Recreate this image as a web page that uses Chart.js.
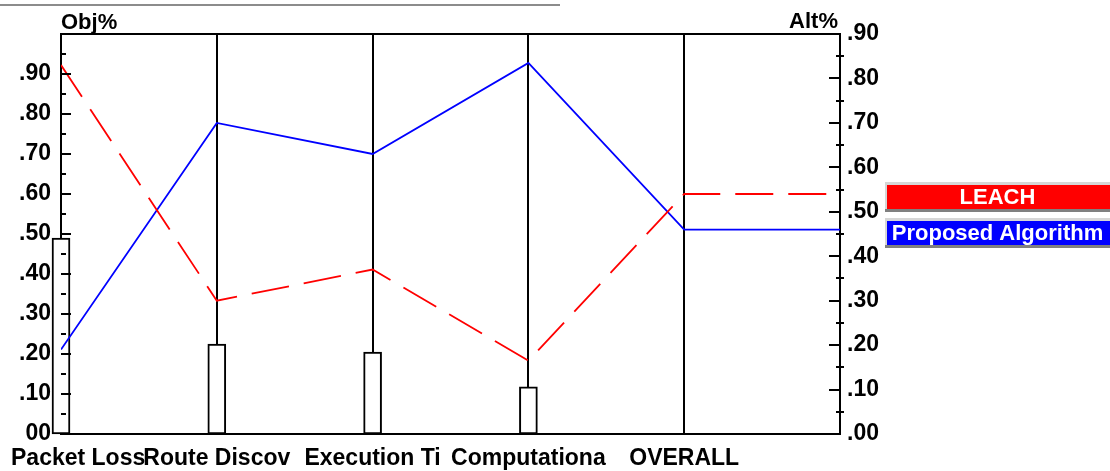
<!DOCTYPE html>
<html>
<head>
<meta charset="utf-8">
<script src="https://cdn.jsdelivr.net/npm/chart.js@4/dist/chart.umd.min.js"></script>
<style>
  html, body { margin:0; padding:0; background:#fff; }
  #wrap { width:1110px; height:471px; }
</style>
</head>
<body>
<div id="wrap"><canvas id="chart" width="1110" height="471"></canvas></div>
<script>
// ── Data ──────────────────────────────────────────────────────
const categories      = ['Packet Loss', 'Route Discov', 'Execution Ti', 'Computationa', 'OVERALL'];
const criteriaWeights = [0.49, 0.225, 0.205, 0.118];          // Obj% bars
const leach           = [0.83, 0.30, 0.37, 0.165, 0.54];      // Alt%
const proposed        = [0.19, 0.70, 0.63, 0.835, 0.46];      // Alt%
const seriesNames     = ['LEACH', 'Proposed Algorithm'];
const objMax = 1.0, altMax = 0.9, tickStep = 0.1, minorStep = 0.05;

const FONT = '"Liberation Sans", Arial, sans-serif';
const C = { red:'#ff0000', blue:'#0000ff', ink:'#000' };

// line runs flat from OVERALL out to the right axis
const toLine = vals => [
  ...vals.map((v, i) => ({ x:i, y:v })),
  { x:categories.length, y:vals[vals.length-1] },
];
const fmtTick = v => {
  if (v > objMax - 0.001) return '';
  if (v === 0) return '00';
  return '.' + Math.round(v*100).toString().padStart(2, '0');
};

// ── Decorations: frame, axis ticks, headers, x labels, legend boxes ──
const decor = {
  id:'decor',
  afterDraw(chart) {
    const { ctx, chartArea:a, scales } = chart;
    const yo = scales.yObj, ya = scales.yAlt, x = scales.x;
    ctx.save();

    // window rule at the very top
    ctx.fillStyle = '#8c8c8c';
    ctx.fillRect(0, 4, 560, 2);

    ctx.strokeStyle = C.ink; ctx.lineWidth = 2;
    ctx.beginPath(); ctx.moveTo(a.left, a.top); ctx.lineTo(a.right, a.top); ctx.stroke();

    // left axis ticks (inside)
    for (let v = minorStep; v < objMax - 0.001; v += minorStep) {
      const py = Math.round(yo.getPixelForValue(v));
      const major = Math.abs(v/tickStep - Math.round(v/tickStep)) < 0.01;
      ctx.beginPath(); ctx.moveTo(a.left, py); ctx.lineTo(a.left + (major ? 10 : 5), py); ctx.stroke();
    }
    // right axis ticks
    for (let v = minorStep; v < altMax - 0.001; v += minorStep) {
      const py = Math.round(ya.getPixelForValue(v));
      const major = Math.abs(v/tickStep - Math.round(v/tickStep)) < 0.01;
      ctx.beginPath();
      if (major) { ctx.moveTo(a.right - 11, py); ctx.lineTo(a.right, py); }
      else       { ctx.moveTo(a.right - 4, py);  ctx.lineTo(a.right + 4, py); }
      ctx.stroke();
    }

    // axis headers
    ctx.fillStyle = C.ink;
    ctx.font = `bold 22px ${FONT}`;
    ctx.textBaseline = 'alphabetic';
    ctx.textAlign = 'left';  ctx.fillText('Obj%', a.left, 29);
    ctx.textAlign = 'right'; ctx.fillText('Alt%', a.right - 2, 28);

    // category labels
    ctx.font = `bold 23px ${FONT}`;
    ctx.textAlign = 'left';
    categories.forEach((c, i) => {
      const w = ctx.measureText(c).width;
      const cx = x.getPixelForValue(i);
      ctx.fillText(c, Math.max(11, cx - w/2), 465);
    });

    // legend boxes at the end of each line
    const ends = [leach[leach.length-1], proposed[proposed.length-1]];
    const cols = [C.red, C.blue];
    ctx.font = `bold 22px ${FONT}`;
    ctx.textAlign = 'center'; ctx.textBaseline = 'middle';
    ends.forEach((v, i) => {
      const top = Math.round(ya.getPixelForValue(v)) - 12;
      const left = 885, w = chart.width - left;
      ctx.fillStyle = '#d6d6d6'; ctx.fillRect(left, top, w, 30);
      ctx.fillStyle = cols[i];   ctx.fillRect(left + 2, top + 3, w - 2, 24);
      ctx.fillStyle = '#808080'; ctx.fillRect(left, top + 27, w, 3);
      ctx.fillStyle = '#fff';
      ctx.fillText(seriesNames[i], left + w/2, top + 16);
    });
    ctx.restore();
  }
};

// ── Chart ─────────────────────────────────────────────────────
new Chart(document.getElementById('chart').getContext('2d'), {
  type:'line',
  data:{ datasets:[
    { type:'line', label:seriesNames[0], data:toLine(leach), yAxisID:'yAlt', xAxisID:'x',
      borderColor:C.red, borderWidth:1.8, borderDash:[38,15], pointRadius:0, tension:0, fill:false, order:1 },
    { type:'line', label:seriesNames[1], data:toLine(proposed), yAxisID:'yAlt', xAxisID:'x',
      borderColor:C.blue, borderWidth:1.8, pointRadius:0, tension:0, fill:false, order:1 },
    { type:'bar', label:'Obj%', data:criteriaWeights.map((w, i) => ({ x:i, y:w })), yAxisID:'yObj', xAxisID:'x',
      backgroundColor:'#fff', borderColor:C.ink, borderWidth:2, borderSkipped:false, barThickness:18,
      clip:false, order:2 },
  ]},
  options:{
    responsive:false, animation:false, devicePixelRatio:1,
    layout:{ padding:{ top:34, left:0, right:0, bottom:0 } },
    plugins:{ legend:{ display:false }, tooltip:{ enabled:false } },
    scales:{
      x:{ type:'linear', min:0, max:categories.length, position:'bottom', offset:false,
          ticks:{ display:false, stepSize:1 },
          grid:{ color:C.ink, lineWidth:2, drawTicks:false, offset:false },
          border:{ display:true, color:C.ink, width:2 },
          afterFit:s => { s.height = 37; } },
      yObj:{ type:'linear', position:'left', min:0, max:objMax,
          ticks:{ stepSize:tickStep, padding:10, color:C.ink, font:{ family:FONT, size:23, weight:'bold' }, callback:fmtTick },
          grid:{ display:false, drawTicks:false },
          border:{ display:true, color:C.ink, width:2 },
          afterFit:s => { s.width = 61; } },
      yAlt:{ type:'linear', position:'right', min:0, max:altMax,
          ticks:{ stepSize:tickStep, padding:7, color:C.ink, font:{ family:FONT, size:23, weight:'bold' },
                  callback:v => v === 0 ? '.00' : '.' + Math.round(v*100).toString().padStart(2, '0') },
          grid:{ display:false, drawTicks:false },
          border:{ display:true, color:C.ink, width:2 },
          afterFit:s => { s.width = 270; } },
    },
  },
  plugins:[decor],
});
</script>
</body>
</html>
